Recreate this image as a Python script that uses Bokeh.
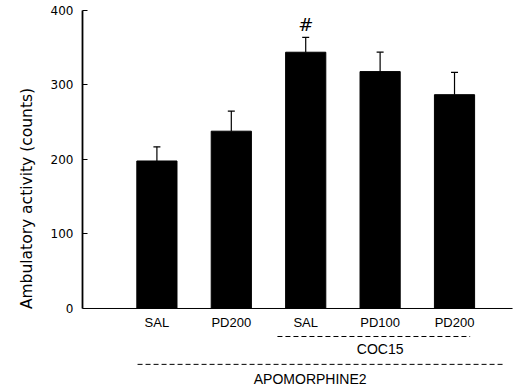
from bokeh.plotting import figure
from bokeh.models import ColumnDataSource, Range1d, FixedTicker, Whisker, TeeHead
from bokeh.core.properties import value
from bokeh.embed import file_html
from bokeh.resources import INLINE

# ---- data ----
categories = ["SAL", "PD200", "SAL", "PD100", "PD200"]
means = [198, 238, 344, 318, 287]
sems = [19, 27, 20, 26, 30]
y_ticks = [0, 100, 200, 300, 400]
group_coc = "COC15"
group_apo = "APOMORPHINE2"
y_label = "Ambulatory activity (counts)"
sig_marks = ["", "", "#", "", ""]

xs = list(range(1, len(categories) + 1))
src = ColumnDataSource(dict(
    x=xs, top=means, upper=[m + s for m, s in zip(means, sems)],
    lower=means, cat=categories, sig=sig_marks,
))

p = figure(width=525, height=386, output_backend="svg", toolbar_location=None,
           x_axis_type=None, x_range=Range1d(0, 5.954), y_range=Range1d(-104.7, 400),
           min_border_left=82, min_border_right=0, min_border_top=10, min_border_bottom=0)
p.outline_line_color = None
p.grid.visible = False
p.background_fill_color = "white"

# bars
p.vbar(x="x", top="top", bottom=0, width=0.54, source=src, fill_color="black", line_color="black")
# error bars (upper only)
w = Whisker(base="x", upper="upper", lower="lower", source=src, line_color="black", line_width=1.2,
            upper_head=TeeHead(size=7, line_color="black", line_width=1.2), lower_head=None)
p.add_layout(w)
# significance mark
p.text(x="x", y="upper", text="sig", source=src, text_align="center", text_baseline="bottom",
       y_offset=-2, text_font=value("DejaVu Sans"), text_font_style="italic", text_font_size="18px",
       text_color="black")

# baseline
p.segment(x0=[0], y0=[0], x1=[5.78], y1=[0], line_color="black", line_width=1)

# category labels
p.text(x="x", y=-19, text="cat", source=src, text_align="center", text_baseline="middle",
       text_font=value("Liberation Sans"), text_font_size="13px", text_color="black")

# group lines and labels
p.segment(x0=[xs[2] - 0.38], y0=[-37.6], x1=[xs[4] + 0.21], y1=[-37.6],
          line_color="black", line_width=1, line_dash="5 3")
p.text(x=[xs[3]], y=[-55], text=[group_coc], text_align="center", text_baseline="middle",
       text_font=value("Liberation Sans"), text_font_size="14px", text_color="black")
p.segment(x0=[xs[0] - 0.26], y0=[-75], x1=[xs[4] + 0.65], y1=[-75],
          line_color="black", line_width=1, line_dash="5 3")
p.text(x=[xs[2] + 0.06], y=[-94], text=[group_apo], text_align="center", text_baseline="middle",
       text_font=value("Liberation Sans"), text_font_size="14px", text_color="black")

# y axis
ya = p.yaxis[0]
ya.bounds = (0, 400)
ya.ticker = FixedTicker(ticks=y_ticks)
ya.minor_tick_line_color = None
ya.major_tick_in = 5
ya.major_tick_out = 0
ya.axis_line_width = 1.8
ya.axis_line_color = "black"
ya.major_tick_line_color = "black"
ya.major_label_standoff = 9
ya.major_label_text_font = "DejaVu Sans"
ya.major_label_text_font_size = "12px"
ya.major_label_text_color = "black"
ya.axis_label = y_label
ya.axis_label_text_font = "DejaVu Sans"
ya.axis_label_text_font_size = "15.5px"
ya.axis_label_text_font_style = "normal"
ya.axis_label_text_color = "black"
ya.axis_label_standoff = 12

open("out.html", "w").write(file_html(p, INLINE))
